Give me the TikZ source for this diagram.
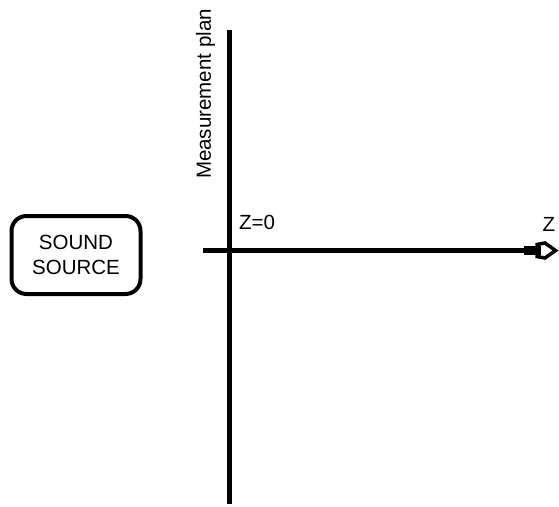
\documentclass[tikz,border=0pt]{standalone}
\usepackage{fontspec}
\setmainfont{Liberation Sans}
\begin{document}
\begin{tikzpicture}[x=1pt,y=-1pt,
  lbl/.style={font=\fontsize{20.5}{24}\selectfont, inner sep=0pt},
  axis/.style={line width=5pt},
  srcbox/.style={draw, line width=4pt, rounded corners=15pt,
    minimum width=129pt, minimum height=78pt, align=center,
    font=\fontsize{20.5}{24.5}\selectfont}]
  \useasboundingbox (0,0) rectangle (559,506);

  % sound source
  \node[srcbox] (src) at (76,255) {SOUND\\SOURCE};

  % measurement plane
  \coordinate (ptop) at (229,30);
  \coordinate (pbot) at (229,504);
  \draw[axis] (ptop) -- (pbot);
  \node[lbl, rotate=90] (plane) at (205.5,94) {Measurement plan};

  % z axis
  \coordinate (zstart) at (203,250.5);
  \coordinate (zthick) at (524,250.5);
  \coordinate (zhead) at (540,250.5);
  \draw[axis] (zstart) -- (zthick);
  \draw[line width=9pt] (zthick) -- (zhead);
  \draw[line width=3.5pt, fill=white, line join=miter]
    (537,244.5) -- (545,243) -- (555.5,250.5) -- (545,258) -- (537,256.5) -- cycle;
  \fill (535,246) rectangle (541,255);

  \node[lbl, anchor=west] (z0) at (239,222.5) {Z=0};
  \node[lbl] (zlabel) at (549,224) {Z};
\end{tikzpicture}
\end{document}
